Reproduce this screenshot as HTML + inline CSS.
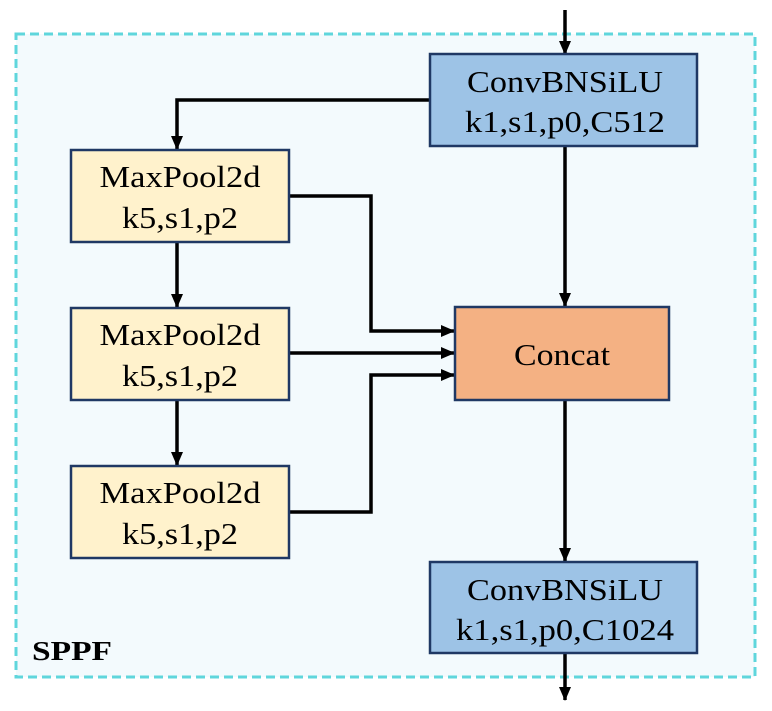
<!DOCTYPE html>
<html><head><meta charset="utf-8"><style>body{margin:0;background:#fff}svg{display:block}text{font-family:"Liberation Serif",serif}</style></head><body>
<svg width="772" height="711" viewBox="0 0 772 711" xmlns="http://www.w3.org/2000/svg">
<defs><marker id="a" markerWidth="14" markerHeight="14" refX="13" refY="7" orient="auto" markerUnits="userSpaceOnUse"><path d="M0,1 L14,7 L0,13 z" fill="#000"/></marker></defs>
<rect x="16" y="34" width="739" height="643" fill="#f3fafd" stroke="#5fd6dc" stroke-width="3" stroke-dasharray="9,5"/>
<g stroke="#000" stroke-width="3.5" fill="none">
<line x1="565" y1="10" x2="565" y2="54" marker-end="url(#a)"/>
<polyline points="430,100 177,100 177,149" marker-end="url(#a)"/>
<line x1="565" y1="146" x2="565" y2="306" marker-end="url(#a)"/>
<line x1="177" y1="242" x2="177" y2="307" marker-end="url(#a)"/>
<line x1="177" y1="400" x2="177" y2="465" marker-end="url(#a)"/>
<polyline points="289,196 371,196 371,331 454,331" marker-end="url(#a)"/>
<line x1="289" y1="353" x2="454" y2="353" marker-end="url(#a)"/>
<polyline points="289,512 371,512 371,375 454,375" marker-end="url(#a)"/>
<line x1="565" y1="400" x2="565" y2="561" marker-end="url(#a)"/>
<line x1="565" y1="653" x2="565" y2="700" marker-end="url(#a)"/>
</g>
<g stroke="#1f3864" stroke-width="2.5">
<rect x="430" y="54" width="267" height="92" fill="#9dc3e6"/>
<rect x="71" y="150" width="218" height="92" fill="#fff2cc"/>
<rect x="71" y="308" width="218" height="92" fill="#fff2cc"/>
<rect x="71" y="466" width="218" height="92" fill="#fff2cc"/>
<rect x="455" y="307" width="214" height="93" fill="#f4b183"/>
<rect x="430" y="562" width="267" height="91" fill="#9dc3e6"/>
</g>
<g font-size="31" text-anchor="middle" fill="#000">
<text x="565" y="92" textLength="196" lengthAdjust="spacingAndGlyphs">ConvBNSiLU</text>
<text x="565" y="132" textLength="200" lengthAdjust="spacingAndGlyphs">k1,s1,p0,C512</text>
<text x="180" y="187" textLength="161" lengthAdjust="spacingAndGlyphs">MaxPool2d</text>
<text x="180" y="228" textLength="116" lengthAdjust="spacingAndGlyphs">k5,s1,p2</text>
<text x="180" y="345" textLength="161" lengthAdjust="spacingAndGlyphs">MaxPool2d</text>
<text x="180" y="386" textLength="116" lengthAdjust="spacingAndGlyphs">k5,s1,p2</text>
<text x="180" y="503" textLength="161" lengthAdjust="spacingAndGlyphs">MaxPool2d</text>
<text x="180" y="544" textLength="116" lengthAdjust="spacingAndGlyphs">k5,s1,p2</text>
<text x="562" y="365" textLength="96" lengthAdjust="spacingAndGlyphs">Concat</text>
<text x="565" y="600" textLength="196" lengthAdjust="spacingAndGlyphs">ConvBNSiLU</text>
<text x="565" y="640" textLength="218" lengthAdjust="spacingAndGlyphs">k1,s1,p0,C1024</text>
</g>
<text x="32" y="660" font-size="27" font-weight="bold" textLength="80" lengthAdjust="spacingAndGlyphs">SPPF</text>
</svg>
</body></html>
